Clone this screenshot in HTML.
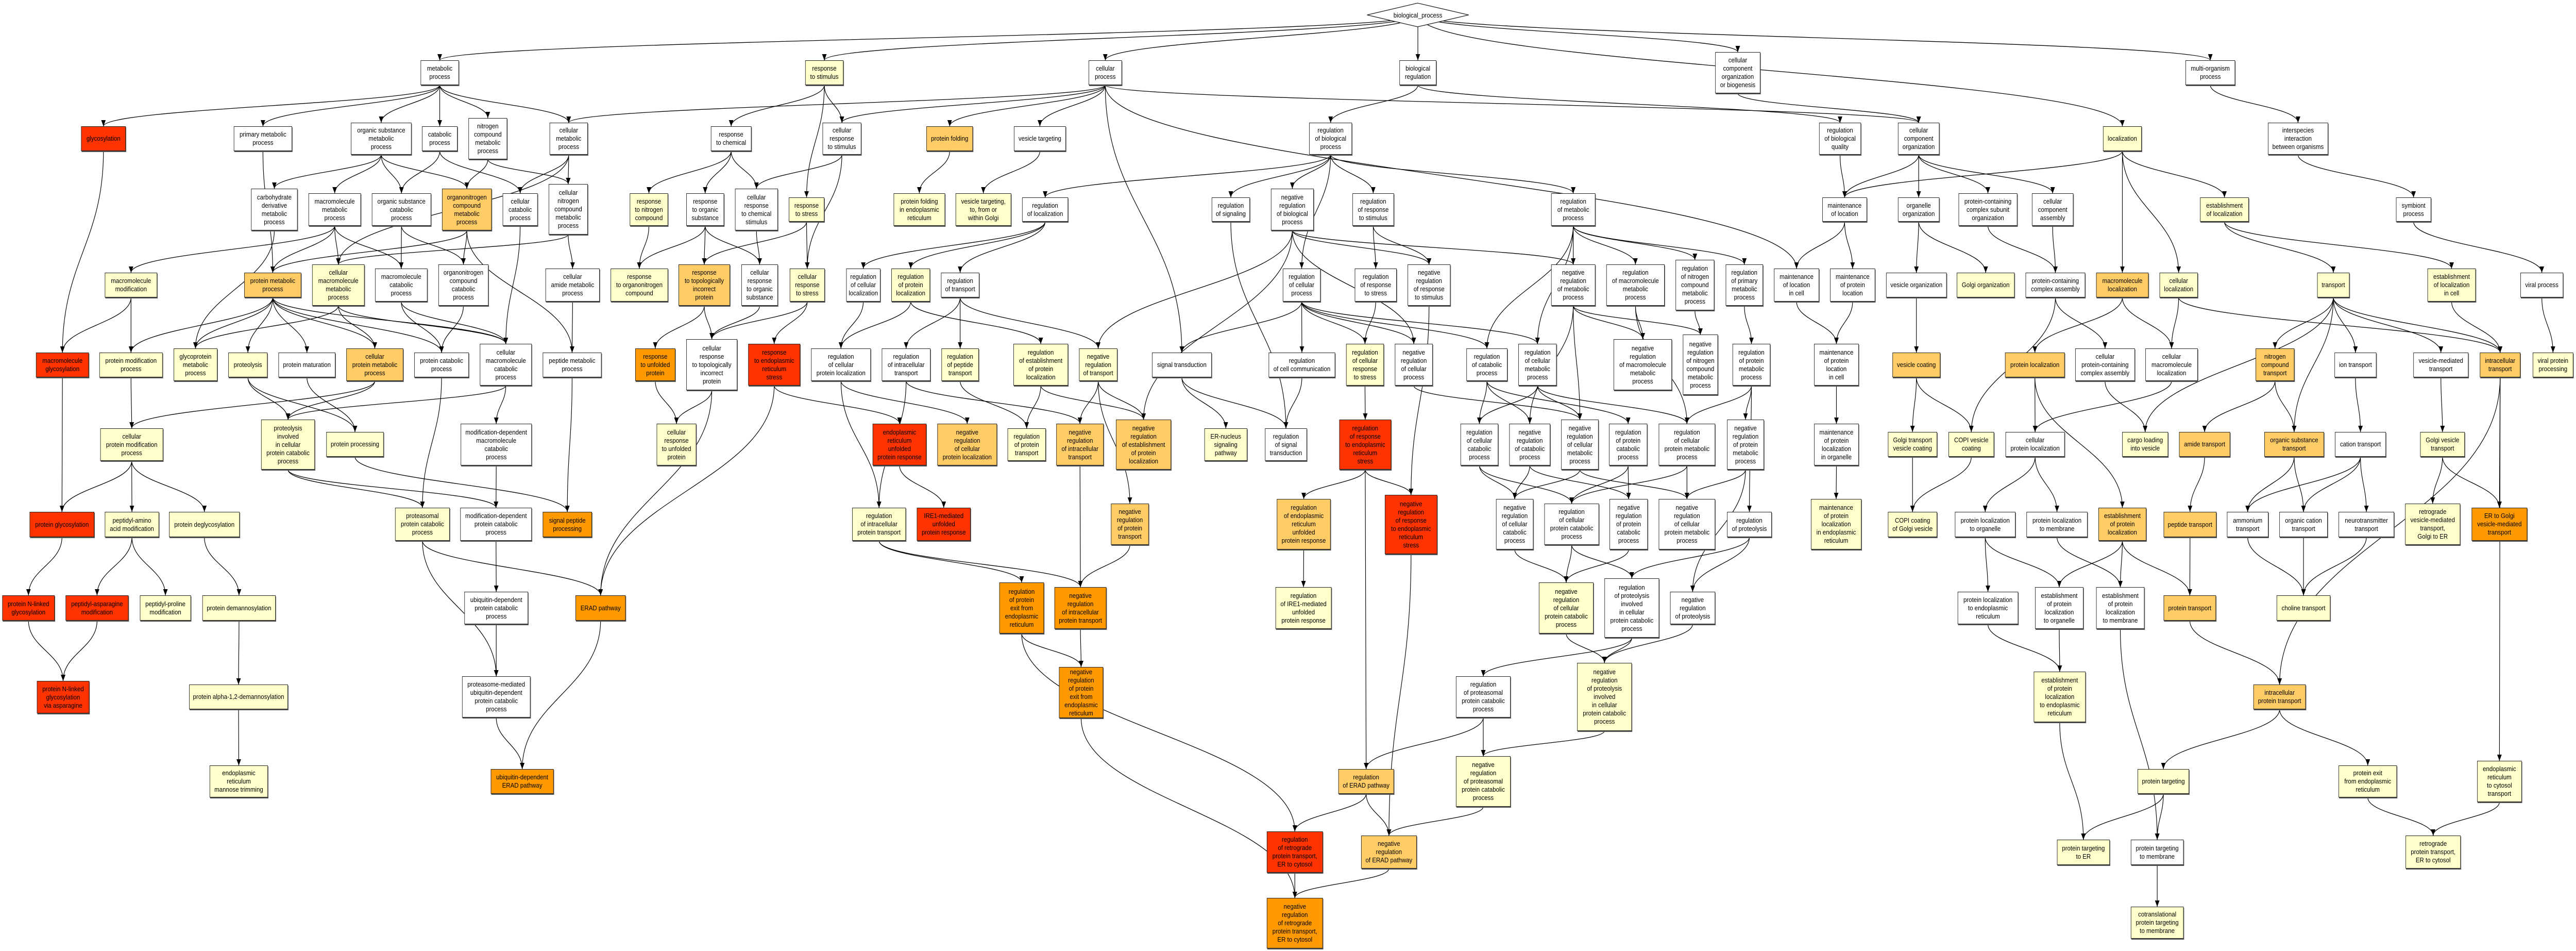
<!DOCTYPE html>
<html><head><meta charset="utf-8">
<style>
html,body{margin:0;padding:0;background:#fff;overflow:hidden;}
#c{position:absolute;left:0;top:0;width:5653px;height:1845px;overflow:hidden;background:#fff;font-family:"Liberation Sans",sans-serif;transform-origin:0 0;}
#edges{position:absolute;left:0;top:0;z-index:1;}
.n{position:absolute;z-index:2;box-sizing:border-box;border:1px solid #222;box-shadow:1px 2px 0 #555;display:flex;align-items:center;justify-content:center;text-align:center;font-size:13px;line-height:16px;white-space:nowrap;color:#000;}
.w{background:#fff}.y{background:#ffffcc}.o{background:#ffcc66}.d{background:#ff9900}.r{background:#ff3300}
#bp{position:absolute;z-index:2;left:2999px;top:5px;width:225px;height:48px;}
#bp span{position:absolute;left:0;top:0;width:225px;height:48px;display:flex;align-items:center;justify-content:center;font-size:13px;}
</style></head><body><div id="c">
<svg id="edges" width="5653" height="1845"><defs><marker id="a" markerUnits="userSpaceOnUse" markerWidth="13" markerHeight="11" refX="12" refY="5" orient="auto"><path d="M0,0 L12,5 L0,10 z" fill="#000"/></marker></defs><g id="eg"></g></svg>
<div id="bp"><svg width="225" height="48"><polygon points="1,24 112,1 224,24 112,47" fill="#fff" stroke="#222" stroke-width="1.3"/></svg><span>biological_process</span></div>

<div class="n w" id="mp" style="left:923px;top:117px;width:84px;height:48px">metabolic<br>process</div>
<div class="n y" id="rs" style="left:1767px;top:117px;width:84px;height:48px">response<br>to stimulus</div>
<div class="n w" id="cp" style="left:2389px;top:117px;width:73px;height:48px">cellular<br>process</div>
<div class="n w" id="br" style="left:3071px;top:117px;width:81px;height:48px">biological<br>regulation</div>
<div class="n w" id="ccob" style="left:3764px;top:101px;width:99px;height:80px">cellular<br>component<br>organization<br>or biogenesis</div>
<div class="n w" id="mop" style="left:4796px;top:117px;width:109px;height:48px">multi-organism<br>process</div>

<div class="n r" id="gly" style="left:178px;top:245px;width:98px;height:48px">glycosylation</div>
<div class="n w" id="pmp" style="left:513px;top:245px;width:128px;height:48px">primary metabolic<br>process</div>
<div class="n w" id="osmp" style="left:770px;top:238px;width:133px;height:62px">organic substance<br>metabolic<br>process</div>
<div class="n w" id="catp" style="left:926px;top:245px;width:78px;height:48px">catabolic<br>process</div>
<div class="n w" id="ncmp" style="left:1028px;top:229px;width:85px;height:80px">nitrogen<br>compound<br>metabolic<br>process</div>
<div class="n w" id="cmp" style="left:1206px;top:238px;width:84px;height:62px">cellular<br>metabolic<br>process</div>
<div class="n w" id="rc" style="left:1560px;top:245px;width:89px;height:48px">response<br>to chemical</div>
<div class="n w" id="crs" style="left:1805px;top:238px;width:85px;height:62px">cellular<br>response<br>to stimulus</div>
<div class="n o" id="pf" style="left:2033px;top:245px;width:102px;height:48px">protein folding</div>
<div class="n w" id="vt" style="left:2225px;top:245px;width:114px;height:48px">vesicle targeting</div>
<div class="n w" id="rbp" style="left:2873px;top:238px;width:94px;height:62px">regulation<br>of biological<br>process</div>
<div class="n w" id="rbq" style="left:3992px;top:238px;width:92px;height:62px">regulation<br>of biological<br>quality</div>
<div class="n w" id="cco" style="left:4165px;top:238px;width:91px;height:62px">cellular<br>component<br>organization</div>
<div class="n y" id="loc" style="left:4615px;top:245px;width:85px;height:48px">localization</div>
<div class="n w" id="iibo" style="left:4977px;top:238px;width:132px;height:62px">interspecies<br>interaction<br>between organisms</div>

<div class="n w" id="cdmp" style="left:551px;top:366px;width:102px;height:81px">carbohydrate<br>derivative<br>metabolic<br>process</div>
<div class="n w" id="mmp" style="left:677px;top:375px;width:115px;height:63px">macromolecule<br>metabolic<br>process</div>
<div class="n w" id="oscp" style="left:816px;top:375px;width:130px;height:63px">organic substance<br>catabolic<br>process</div>
<div class="n o" id="oncmp" style="left:970px;top:366px;width:109px;height:81px">organonitrogen<br>compound<br>metabolic<br>process</div>
<div class="n w" id="ccp" style="left:1103px;top:375px;width:77px;height:63px">cellular<br>catabolic<br>process</div>
<div class="n w" id="cncmp" style="left:1204px;top:357px;width:86px;height:98px">cellular<br>nitrogen<br>compound<br>metabolic<br>process</div>
<div class="n y" id="rnc" style="left:1382px;top:375px;width:84px;height:63px">response<br>to nitrogen<br>compound</div>
<div class="n w" id="ros" style="left:1506px;top:375px;width:83px;height:63px">response<br>to organic<br>substance</div>
<div class="n w" id="crcs" style="left:1613px;top:366px;width:94px;height:81px">cellular<br>response<br>to chemical<br>stimulus</div>
<div class="n y" id="rst" style="left:1731px;top:383px;width:78px;height:47px">response<br>to stress</div>
<div class="n y" id="pfer" style="left:1961px;top:375px;width:113px;height:63px">protein folding<br>in endoplasmic<br>reticulum</div>
<div class="n y" id="vtg" style="left:2097px;top:375px;width:122px;height:63px">vesicle targeting,<br>to, from or<br>within Golgi</div>
<div class="n w" id="rl" style="left:2243px;top:383px;width:101px;height:47px">regulation<br>of localization</div>
<div class="n w" id="rsig" style="left:2659px;top:383px;width:84px;height:47px">regulation<br>of signaling</div>
<div class="n w" id="nrbp" style="left:2789px;top:366px;width:94px;height:81px">negative<br>regulation<br>of biological<br>process</div>
<div class="n w" id="rrs" style="left:2968px;top:375px;width:91px;height:63px">regulation<br>of response<br>to stimulus</div>
<div class="n w" id="rmp" style="left:3404px;top:375px;width:97px;height:63px">regulation<br>of metabolic<br>process</div>
<div class="n w" id="mol" style="left:3999px;top:383px;width:98px;height:47px">maintenance<br>of location</div>
<div class="n w" id="oo" style="left:4165px;top:383px;width:91px;height:47px">organelle<br>organization</div>
<div class="n w" id="pcso" style="left:4298px;top:375px;width:129px;height:63px">protein-containing<br>complex subunit<br>organization</div>
<div class="n w" id="cca" style="left:4459px;top:375px;width:91px;height:63px">cellular<br>component<br>assembly</div>
<div class="n y" id="eol" style="left:4828px;top:383px;width:107px;height:47px">establishment<br>of localization</div>
<div class="n w" id="sp" style="left:5258px;top:383px;width:77px;height:47px">symbiont<br>process</div>

<div class="n y" id="mm" style="left:230px;top:529px;width:115px;height:48px">macromolecule<br>modification</div>
<div class="n o" id="prmp" style="left:536px;top:529px;width:125px;height:48px">protein metabolic<br>process</div>
<div class="n y" id="cmmp" style="left:685px;top:513px;width:115px;height:80px">cellular<br>macromolecule<br>metabolic<br>process</div>
<div class="n w" id="mcp" style="left:823px;top:521px;width:115px;height:64px">macromolecule<br>catabolic<br>process</div>
<div class="n w" id="onccp" style="left:962px;top:513px;width:110px;height:80px">organonitrogen<br>compound<br>catabolic<br>process</div>
<div class="n w" id="camp" style="left:1197px;top:521px;width:119px;height:64px">cellular<br>amide metabolic<br>process</div>
<div class="n y" id="ronc" style="left:1340px;top:521px;width:126px;height:64px">response<br>to organonitrogen<br>compound</div>
<div class="n o" id="rtip" style="left:1489px;top:513px;width:113px;height:80px">response<br>to topologically<br>incorrect<br>protein</div>
<div class="n w" id="cros" style="left:1627px;top:513px;width:80px;height:80px">cellular<br>response<br>to organic<br>substance</div>
<div class="n y" id="crst" style="left:1733px;top:521px;width:77px;height:64px">cellular<br>response<br>to stress</div>
<div class="n w" id="rcl" style="left:1857px;top:521px;width:75px;height:64px">regulation<br>of cellular<br>localization</div>
<div class="n y" id="rpl" style="left:1956px;top:521px;width:85px;height:64px">regulation<br>of protein<br>localization</div>
<div class="n w" id="rt" style="left:2065px;top:529px;width:84px;height:48px">regulation<br>of transport</div>
<div class="n w" id="rcp" style="left:2815px;top:521px;width:83px;height:64px">regulation<br>of cellular<br>process</div>
<div class="n w" id="rrst" style="left:2973px;top:521px;width:92px;height:64px">regulation<br>of response<br>to stress</div>
<div class="n w" id="nrrs" style="left:3089px;top:513px;width:94px;height:80px">negative<br>regulation<br>of response<br>to stimulus</div>
<div class="n w" id="nrmp" style="left:3404px;top:513px;width:97px;height:80px">negative<br>regulation<br>of metabolic<br>process</div>
<div class="n w" id="rmmp" style="left:3525px;top:513px;width:128px;height:80px">regulation<br>of macromolecule<br>metabolic<br>process</div>
<div class="n w" id="rncmp" style="left:3677px;top:504px;width:85px;height:98px">regulation<br>of nitrogen<br>compound<br>metabolic<br>process</div>
<div class="n w" id="rpmp" style="left:3787px;top:513px;width:82px;height:80px">regulation<br>of primary<br>metabolic<br>process</div>
<div class="n w" id="molc" style="left:3893px;top:521px;width:99px;height:64px">maintenance<br>of location<br>in cell</div>
<div class="n w" id="mopl" style="left:4016px;top:521px;width:99px;height:64px">maintenance<br>of protein<br>location</div>
<div class="n w" id="vo" style="left:4139px;top:529px;width:133px;height:48px">vesicle organization</div>
<div class="n y" id="go" style="left:4294px;top:529px;width:127px;height:48px">Golgi organization</div>
<div class="n w" id="pcca" style="left:4445px;top:529px;width:131px;height:48px">protein-containing<br>complex assembly</div>
<div class="n o" id="ml" style="left:4600px;top:529px;width:115px;height:48px">macromolecule<br>localization</div>
<div class="n y" id="cl" style="left:4739px;top:529px;width:84px;height:48px">cellular<br>localization</div>
<div class="n y" id="tr" style="left:5085px;top:529px;width:71px;height:48px">transport</div>
<div class="n y" id="eolc" style="left:5327px;top:521px;width:106px;height:64px">establishment<br>of localization<br>in cell</div>
<div class="n w" id="vp" style="left:5531px;top:529px;width:94px;height:48px">viral process</div>

<div class="n r" id="mg" style="left:79px;top:684px;width:116px;height:48px">macromolecule<br>glycosylation</div>
<div class="n y" id="pmop" style="left:218px;top:684px;width:139px;height:48px">protein modification<br>process</div>
<div class="n y" id="gmp" style="left:381px;top:676px;width:96px;height:63px">glycoprotein<br>metabolic<br>process</div>
<div class="n y" id="prt" style="left:501px;top:684px;width:86px;height:48px">proteolysis</div>
<div class="n w" id="pmat" style="left:611px;top:684px;width:125px;height:48px">protein maturation</div>
<div class="n o" id="cpmp" style="left:760px;top:676px;width:125px;height:63px">cellular<br>protein metabolic<br>process</div>
<div class="n w" id="pcatp" style="left:909px;top:684px;width:120px;height:48px">protein catabolic<br>process</div>
<div class="n w" id="cmcp" style="left:1053px;top:667px;width:114px;height:81px">cellular<br>macromolecule<br>catabolic<br>process</div>
<div class="n w" id="pemp" style="left:1191px;top:684px;width:129px;height:48px">peptide metabolic<br>process</div>
<div class="n d" id="rup" style="left:1394px;top:676px;width:88px;height:63px">response<br>to unfolded<br>protein</div>
<div class="n w" id="crtip" style="left:1506px;top:658px;width:112px;height:99px">cellular<br>response<br>to topologically<br>incorrect<br>protein</div>
<div class="n r" id="rers" style="left:1642px;top:667px;width:114px;height:81px">response<br>to endoplasmic<br>reticulum<br>stress</div>
<div class="n w" id="rcpl" style="left:1780px;top:676px;width:131px;height:63px">regulation<br>of cellular<br>protein localization</div>
<div class="n w" id="rit" style="left:1935px;top:676px;width:107px;height:63px">regulation<br>of intracellular<br>transport</div>
<div class="n y" id="rpt" style="left:2066px;top:676px;width:82px;height:63px">regulation<br>of peptide<br>transport</div>
<div class="n y" id="repl" style="left:2224px;top:667px;width:120px;height:81px">regulation<br>of establishment<br>of protein<br>localization</div>
<div class="n y" id="nrt" style="left:2368px;top:676px;width:84px;height:63px">negative<br>regulation<br>of transport</div>
<div class="n w" id="st" style="left:2528px;top:684px;width:131px;height:48px">signal transduction</div>
<div class="n w" id="rcc" style="left:2784px;top:684px;width:146px;height:48px">regulation<br>of cell communication</div>
<div class="n y" id="rcrs" style="left:2954px;top:667px;width:83px;height:81px">regulation<br>of cellular<br>response<br>to stress</div>
<div class="n w" id="nrcp" style="left:3061px;top:667px;width:83px;height:81px">negative<br>regulation<br>of cellular<br>process</div>
<div class="n w" id="rcatp" style="left:3218px;top:676px;width:90px;height:63px">regulation<br>of catabolic<br>process</div>
<div class="n w" id="rcmp" style="left:3332px;top:667px;width:84px;height:81px">regulation<br>of cellular<br>metabolic<br>process</div>
<div class="n w" id="nrmmp" style="left:3541px;top:658px;width:128px;height:99px">negative<br>regulation<br>of macromolecule<br>metabolic<br>process</div>
<div class="n w" id="nrncmp" style="left:3693px;top:649px;width:77px;height:117px">negative<br>regulation<br>of nitrogen<br>compound<br>metabolic<br>process</div>
<div class="n w" id="rprmp" style="left:3802px;top:667px;width:83px;height:81px">regulation<br>of protein<br>metabolic<br>process</div>
<div class="n w" id="mopc" style="left:3981px;top:667px;width:98px;height:81px">maintenance<br>of protein<br>location<br>in cell</div>
<div class="n o" id="vc" style="left:4153px;top:684px;width:105px;height:48px">vesicle coating</div>
<div class="n o" id="pl" style="left:4400px;top:684px;width:131px;height:48px">protein localization</div>
<div class="n w" id="cpcca" style="left:4554px;top:676px;width:131px;height:63px">cellular<br>protein-containing<br>complex assembly</div>
<div class="n w" id="cml" style="left:4708px;top:676px;width:115px;height:63px">cellular<br>macromolecule<br>localization</div>
<div class="n o" id="nct" style="left:4950px;top:676px;width:85px;height:63px">nitrogen<br>compound<br>transport</div>
<div class="n w" id="it" style="left:5123px;top:684px;width:92px;height:48px">ion transport</div>
<div class="n w" id="vmt" style="left:5296px;top:684px;width:121px;height:48px">vesicle-mediated<br>transport</div>
<div class="n o" id="intr" style="left:5442px;top:684px;width:89px;height:48px">intracellular<br>transport</div>
<div class="n y" id="vpp" style="left:5558px;top:684px;width:89px;height:48px">viral protein<br>processing</div>

<div class="n y" id="cpmop" style="left:220px;top:831px;width:138px;height:63px">cellular<br>protein modification<br>process</div>
<div class="n y" id="picpcp" style="left:573px;top:814px;width:118px;height:97px">proteolysis<br>involved<br>in cellular<br>protein catabolic<br>process</div>
<div class="n y" id="pp" style="left:716px;top:838px;width:126px;height:48px">protein processing</div>
<div class="n w" id="mdmcp" style="left:1011px;top:822px;width:156px;height:81px">modification-dependent<br>macromolecule<br>catabolic<br>process</div>
<div class="n y" id="crup" style="left:1441px;top:822px;width:87px;height:81px">cellular<br>response<br>to unfolded<br>protein</div>
<div class="n r" id="erupr" style="left:1915px;top:822px;width:118px;height:81px">endoplasmic<br>reticulum<br>unfolded<br>protein response</div>
<div class="n o" id="nrcpl" style="left:2057px;top:822px;width:131px;height:81px">negative<br>regulation<br>of cellular<br>protein localization</div>
<div class="n y" id="rprt" style="left:2211px;top:831px;width:84px;height:63px">regulation<br>of protein<br>transport</div>
<div class="n o" id="nrit" style="left:2318px;top:822px;width:104px;height:81px">negative<br>regulation<br>of intracellular<br>transport</div>
<div class="n o" id="nrepl" style="left:2449px;top:814px;width:121px;height:97px">negative<br>regulation<br>of establishment<br>of protein<br>localization</div>
<div class="n y" id="erns" style="left:2643px;top:831px;width:94px;height:63px">ER-nucleus<br>signaling<br>pathway</div>
<div class="n w" id="rst2" style="left:2776px;top:831px;width:92px;height:63px">regulation<br>of signal<br>transduction</div>
<div class="n r" id="rrers" style="left:2939px;top:814px;width:114px;height:97px">regulation<br>of response<br>to endoplasmic<br>reticulum<br>stress</div>
<div class="n w" id="rccp" style="left:3205px;top:822px;width:83px;height:81px">regulation<br>of cellular<br>catabolic<br>process</div>
<div class="n w" id="nrcatp" style="left:3312px;top:822px;width:90px;height:81px">negative<br>regulation<br>of catabolic<br>process</div>
<div class="n w" id="nrcmp" style="left:3426px;top:814px;width:82px;height:97px">negative<br>regulation<br>of cellular<br>metabolic<br>process</div>
<div class="n w" id="rpcp" style="left:3531px;top:822px;width:84px;height:81px">regulation<br>of protein<br>catabolic<br>process</div>
<div class="n w" id="rcpmp" style="left:3640px;top:822px;width:124px;height:81px">regulation<br>of cellular<br>protein metabolic<br>process</div>
<div class="n w" id="nrpmp" style="left:3790px;top:814px;width:81px;height:97px">negative<br>regulation<br>of protein<br>metabolic<br>process</div>
<div class="n w" id="mople" style="left:3981px;top:822px;width:98px;height:81px">maintenance<br>of protein<br>localization<br>in organelle</div>
<div class="n y" id="gtvc" style="left:4143px;top:838px;width:108px;height:48px">Golgi transport<br>vesicle coating</div>
<div class="n y" id="copi" style="left:4276px;top:838px;width:100px;height:48px">COPI vesicle<br>coating</div>
<div class="n w" id="cpl" style="left:4401px;top:838px;width:130px;height:48px">cellular<br>protein localization</div>
<div class="n y" id="cliv" style="left:4657px;top:838px;width:101px;height:48px">cargo loading<br>into vesicle</div>
<div class="n o" id="amt" style="left:4782px;top:838px;width:112px;height:48px">amide transport</div>
<div class="n o" id="ost" style="left:4969px;top:838px;width:131px;height:48px">organic substance<br>transport</div>
<div class="n w" id="ct" style="left:5124px;top:838px;width:112px;height:48px">cation transport</div>
<div class="n y" id="gvt" style="left:5311px;top:838px;width:98px;height:48px">Golgi vesicle<br>transport</div>

<div class="n r" id="pgly" style="left:65px;top:993px;width:142px;height:49px">protein glycosylation</div>
<div class="n y" id="paam" style="left:230px;top:993px;width:119px;height:49px">peptidyl-amino<br>acid modification</div>
<div class="n y" id="pdg" style="left:371px;top:993px;width:155px;height:49px">protein deglycosylation</div>
<div class="n y" id="ppcp" style="left:867px;top:985px;width:120px;height:64px">proteasomal<br>protein catabolic<br>process</div>
<div class="n w" id="mdpcp" style="left:1010px;top:985px;width:157px;height:64px">modification-dependent<br>protein catabolic<br>process</div>
<div class="n d" id="spp" style="left:1191px;top:993px;width:108px;height:49px">signal peptide<br>processing</div>
<div class="n y" id="ript" style="left:1870px;top:985px;width:118px;height:64px">regulation<br>of intracellular<br>protein transport</div>
<div class="n r" id="ire" style="left:2012px;top:985px;width:118px;height:64px">IRE1-mediated<br>unfolded<br>protein response</div>
<div class="n o" id="nrpt" style="left:2438px;top:977px;width:83px;height:80px">negative<br>regulation<br>of protein<br>transport</div>
<div class="n o" id="rerupr" style="left:2802px;top:968px;width:118px;height:98px">regulation<br>of endoplasmic<br>reticulum<br>unfolded<br>protein response</div>
<div class="n r" id="nrrers" style="left:3039px;top:960px;width:115px;height:115px">negative<br>regulation<br>of response<br>to endoplasmic<br>reticulum<br>stress</div>
<div class="n w" id="nrccp" style="left:3283px;top:968px;width:82px;height:98px">negative<br>regulation<br>of cellular<br>catabolic<br>process</div>
<div class="n w" id="rcpcp" style="left:3389px;top:977px;width:120px;height:80px">regulation<br>of cellular<br>protein catabolic<br>process</div>
<div class="n w" id="nrpcp" style="left:3532px;top:968px;width:84px;height:98px">negative<br>regulation<br>of protein<br>catabolic<br>process</div>
<div class="n w" id="nrcpmp" style="left:3640px;top:968px;width:124px;height:98px">negative<br>regulation<br>of cellular<br>protein metabolic<br>process</div>
<div class="n w" id="rprot" style="left:3790px;top:993px;width:98px;height:49px">regulation<br>of proteolysis</div>
<div class="n y" id="mopler" style="left:3974px;top:968px;width:111px;height:98px">maintenance<br>of protein<br>localization<br>in endoplasmic<br>reticulum</div>
<div class="n y" id="copigv" style="left:4143px;top:993px;width:108px;height:49px">COPI coating<br>of Golgi vesicle</div>
<div class="n w" id="plo" style="left:4290px;top:993px;width:133px;height:49px">protein localization<br>to organelle</div>
<div class="n w" id="plm" style="left:4447px;top:993px;width:134px;height:49px">protein localization<br>to membrane</div>
<div class="n o" id="epl" style="left:4605px;top:985px;width:105px;height:64px">establishment<br>of protein<br>localization</div>
<div class="n o" id="pept" style="left:4748px;top:993px;width:116px;height:49px">peptide transport</div>
<div class="n w" id="ammt" style="left:4887px;top:993px;width:91px;height:49px">ammonium<br>transport</div>
<div class="n w" id="oct" style="left:5002px;top:993px;width:106px;height:49px">organic cation<br>transport</div>
<div class="n w" id="ntt" style="left:5132px;top:993px;width:122px;height:49px">neurotransmitter<br>transport</div>
<div class="n y" id="rvmt" style="left:5278px;top:977px;width:121px;height:80px">retrograde<br>vesicle-mediated<br>transport,<br>Golgi to ER</div>
<div class="n d" id="ergv" style="left:5424px;top:985px;width:122px;height:64px">ER to Golgi<br>vesicle-mediated<br>transport</div>

<div class="n r" id="pnlg" style="left:5px;top:1155px;width:115px;height:49px">protein N-linked<br>glycosylation</div>
<div class="n r" id="pam" style="left:144px;top:1155px;width:138px;height:49px">peptidyl-asparagine<br>modification</div>
<div class="n y" id="ppm" style="left:307px;top:1155px;width:112px;height:49px">peptidyl-proline<br>modification</div>
<div class="n y" id="pdm" style="left:444px;top:1155px;width:161px;height:49px">protein demannosylation</div>
<div class="n w" id="udpcp" style="left:1019px;top:1148px;width:140px;height:63px">ubiquitin-dependent<br>protein catabolic<br>process</div>
<div class="n d" id="erad" style="left:1263px;top:1155px;width:110px;height:49px">ERAD pathway</div>
<div class="n d" id="rpeer" style="left:2193px;top:1130px;width:98px;height:99px">regulation<br>of protein<br>exit from<br>endoplasmic<br>reticulum</div>
<div class="n d" id="nript" style="left:2314px;top:1139px;width:114px;height:81px">negative<br>regulation<br>of intracellular<br>protein transport</div>
<div class="n y" id="rire" style="left:2799px;top:1139px;width:123px;height:81px">regulation<br>of IRE1-mediated<br>unfolded<br>protein response</div>
<div class="n y" id="nrcpcp" style="left:3377px;top:1130px;width:120px;height:99px">negative<br>regulation<br>of cellular<br>protein catabolic<br>process</div>
<div class="n w" id="rpicpcp" style="left:3521px;top:1122px;width:120px;height:115px">regulation<br>of proteolysis<br>involved<br>in cellular<br>protein catabolic<br>process</div>
<div class="n w" id="nrprot" style="left:3665px;top:1148px;width:99px;height:63px">negative<br>regulation<br>of proteolysis</div>
<div class="n w" id="plter" style="left:4296px;top:1148px;width:133px;height:63px">protein localization<br>to endoplasmic<br>reticulum</div>
<div class="n w" id="eplo" style="left:4466px;top:1139px;width:106px;height:81px">establishment<br>of protein<br>localization<br>to organelle</div>
<div class="n w" id="eplm" style="left:4600px;top:1139px;width:106px;height:81px">establishment<br>of protein<br>localization<br>to membrane</div>
<div class="n o" id="pt" style="left:4748px;top:1155px;width:115px;height:49px">protein transport</div>
<div class="n y" id="cht" style="left:4996px;top:1155px;width:118px;height:49px">choline transport</div>

<div class="n r" id="pnlga" style="left:81px;top:1321px;width:115px;height:63px">protein N-linked<br>glycosylation<br>via asparagine</div>
<div class="n y" id="pad" style="left:415px;top:1328px;width:217px;height:48px">protein alpha-1,2-demannosylation</div>
<div class="n w" id="pmudpcp" style="left:1014px;top:1312px;width:150px;height:80px">proteasome-mediated<br>ubiquitin-dependent<br>protein catabolic<br>process</div>
<div class="n d" id="nrpeer" style="left:2324px;top:1294px;width:97px;height:99px">negative<br>regulation<br>of protein<br>exit from<br>endoplasmic<br>reticulum</div>
<div class="n w" id="rppcp" style="left:3195px;top:1312px;width:120px;height:80px">regulation<br>of proteasomal<br>protein catabolic<br>process</div>
<div class="n y" id="nrpicpcp" style="left:3461px;top:1286px;width:120px;height:132px">negative<br>regulation<br>of proteolysis<br>involved<br>in cellular<br>protein catabolic<br>process</div>
<div class="n y" id="eplter" style="left:4463px;top:1303px;width:114px;height:98px">establishment<br>of protein<br>localization<br>to endoplasmic<br>reticulum</div>
<div class="n o" id="ipt" style="left:4945px;top:1328px;width:115px;height:48px">intracellular<br>protein transport</div>

<div class="n y" id="ermt" style="left:460px;top:1485px;width:128px;height:62px">endoplasmic<br>reticulum<br>mannose trimming</div>
<div class="n d" id="uerad" style="left:1077px;top:1492px;width:138px;height:48px">ubiquitin-dependent<br>ERAD pathway</div>
<div class="n o" id="rerad" style="left:2937px;top:1492px;width:122px;height:48px">regulation<br>of ERAD pathway</div>
<div class="n y" id="nrppcp" style="left:3195px;top:1467px;width:120px;height:98px">negative<br>regulation<br>of proteasomal<br>protein catabolic<br>process</div>
<div class="n y" id="ptg" style="left:4691px;top:1492px;width:113px;height:48px">protein targeting</div>
<div class="n y" id="peer" style="left:5132px;top:1485px;width:128px;height:62px">protein exit<br>from endoplasmic<br>reticulum</div>
<div class="n y" id="ertc" style="left:5436px;top:1476px;width:98px;height:80px">endoplasmic<br>reticulum<br>to cytosol<br>transport</div>

<div class="n r" id="rrpt" style="left:2780px;top:1613px;width:123px;height:80px">regulation<br>of retrograde<br>protein transport,<br>ER to cytosol</div>
<div class="n o" id="nrerad" style="left:2987px;top:1621px;width:122px;height:64px">negative<br>regulation<br>of ERAD pathway</div>
<div class="n y" id="pter" style="left:4514px;top:1629px;width:116px;height:49px">protein targeting<br>to ER</div>
<div class="n w" id="ptm" style="left:4676px;top:1629px;width:116px;height:49px">protein targeting<br>to membrane</div>
<div class="n y" id="rpter" style="left:5279px;top:1621px;width:121px;height:64px">retrograde<br>protein transport,<br>ER to cytosol</div>
<div class="n d" id="nrrpt" style="left:2780px;top:1742px;width:123px;height:98px">negative<br>regulation<br>of retrograde<br>protein transport,<br>ER to cytosol</div>
<div class="n y" id="cptm" style="left:4676px;top:1759px;width:116px;height:62px">cotranslational<br>protein targeting<br>to membrane</div>
</div>
<script>
(function(){
var E="bp mp,bp rs,bp cp,bp br,bp ccob,bp mop,bp loc,mp gly,mp pmp,mp osmp,mp catp,mp ncmp,mp cmp,cp cmp,cp crs,cp pf,cp vt,cp st,cp cco,cp molc,rs rc,rs crs,rs rst,br rbp,br rbq,ccob cco,mop iibo,iibo sp,sp vp,vp vpp,osmp cdmp,osmp mmp,osmp oscp,osmp oncmp,catp oscp,catp ccp,ncmp oncmp,ncmp cncmp,cmp ccp,cmp cncmp,cmp cmmp,pmp prmp,rc rnc,rc ros,rc crcs,crs crcs,crs crst,rst crst,rst rtip,rnc ronc,ros ronc,ros rtip,ros cros,crcs cros,crst crtip,crst rers,rtip rup,rtip crtip,cros crtip,rup crup,crtip crup,rers erad,crtip erad,cdmp gmp,mmp mm,mmp prmp,mmp cmmp,mmp mcp,oscp mcp,oscp onccp,oncmp prmp,oncmp onccp,oncmp pemp,ccp cmcp,cncmp camp,cncmp cmmp,camp pemp,mm mg,mm pmop,prmp pmop,prmp gmp,prmp prt,prmp pmat,prmp cpmp,prmp pcatp,prmp cmcp,cmmp gmp,cmmp cpmp,cmmp cmcp,mcp pcatp,mcp cmcp,onccp pcatp,pmop cpmop,gly mg,prt picpcp,prt pp,pmat pp,cpmp cpmop,cpmp picpcp,pcatp ppcp,cmcp mdmcp,cmcp picpcp,mdmcp mdpcp,pemp spp,cpmop pgly,cpmop paam,cpmop pdg,mg pgly,picpcp ppcp,picpcp mdpcp,pp spp,pgly pnlg,paam pam,paam ppm,pdg pdm,pnlg pnlga,pam pnlga,pdm pad,pad ermt,ppcp erad,ppcp pmudpcp,mdpcp udpcp,udpcp pmudpcp,pmudpcp uerad,erad uerad,pf pfer,vt vtg,rbp rl,rbp rsig,rbp nrbp,rbp rrs,rbp rmp,rbp rcp,rl rcl,rl rpl,rl rt,rcl rcpl,rpl rcpl,rpl repl,rt rit,rt rpt,rt nrt,rcpl nrcpl,rcpl ript,rit ript,rit nrit,rpt rprt,repl rprt,repl nrepl,nrt nrit,nrt nrpt,nrt nrepl,rers erupr,erupr ire,nrbp nrt,nrbp nrepl,nrbp nrcp,nrbp nrrs,nrbp nrmp,rsig rst2,rrs rrst,rrs nrrs,rcp rcc,rcp st,rcp rcrs,rcp nrcp,rcp rcmp,rcp rcatp,rrst rcrs,nrrs nrrers,rcrs rrers,st erns,st rst2,rcc rst2,rrers rerupr,rrers nrrers,rrers rerad,rerupr rire,nrrers nrerad,rmp nrmp,rmp rmmp,rmp rncmp,rmp rpmp,rmp rcatp,rmp rcmp,nrmp nrmmp,nrmp nrncmp,nrmp nrcatp,nrmp nrcmp,rmmp nrmmp,rmmp rcpmp,rncmp nrncmp,rpmp rprmp,rcatp rccp,rcatp nrcatp,rcatp rpcp,rcmp rccp,rcmp nrcmp,rcmp rcpmp,rprmp nrpmp,rprmp rcpmp,rprmp rprot,nrcp nrcmp,rccp nrccp,rccp rcpcp,nrcatp nrccp,nrcatp nrpcp,nrcmp nrccp,nrcmp nrcpmp,rpcp rcpcp,rpcp nrpcp,rcpmp rcpcp,rcpmp nrcpmp,nrpmp nrcpmp,nrpmp nrprot,rprot rpicpcp,rprot nrprot,rcpcp nrcpcp,rcpcp rpicpcp,nrccp nrcpcp,nrpcp nrcpcp,rpicpcp nrpicpcp,rpicpcp rppcp,nrprot nrpicpcp,nrcpcp nrpicpcp,rppcp nrppcp,rppcp rerad,nrpicpcp nrppcp,nrppcp nrerad,rerad rrpt,rerad nrerad,nrerad nrrpt,rrpt nrrpt,ript rpeer,ript nript,nrit nript,nrpt nript,rpeer nrpeer,rpeer rrpt,nript nrpeer,nrpeer nrrpt,rbq mol,cco mol,cco oo,cco pcso,cco cca,mol molc,mol mopl,molc mopc,mopl mopc,mopc mople,mople mopler,oo vo,oo go,pcso pcca,cca pcca,vo vc,pcca cpcca,pcca copi,ml pl,ml cml,cl cml,loc ml,loc cl,loc eol,loc mol,eol tr,eol eolc,tr nct,tr it,tr vmt,tr intr,tr ost,tr cliv,eolc intr,cl intr,vc gtvc,vc copi,pl cpl,pl epl,cpcca cliv,cml cpl,cpl plo,cpl plm,nct amt,nct ost,it ct,vmt gvt,intr ergv,intr ipt,intr ertc,gvt rvmt,gvt ergv,gtvc copigv,copi copigv,amt pept,ost ammt,ost oct,ct ammt,ct oct,ct ntt,plo plter,plo eplo,plm eplm,epl eplo,epl eplm,epl pt,pept pt,ammt cht,oct cht,ntt cht,plter eplter,eplo eplter,pt ipt,ipt ptg,ipt peer,eplter pter,eplm ptm,ptg pter,ptg ptm,ptm cptm,peer rpter,ertc rpter".split(",");
var g=document.getElementById("eg"),s="";
function r(id){var e=document.getElementById(id);if(!e)return null;return{x:e.offsetLeft,y:e.offsetTop,w:e.offsetWidth,h:e.offsetHeight};}
E.forEach(function(p){var a=p.split(" "),A=r(a[0]),B=r(a[1]);if(!A||!B)return;
var x1=A.x+A.w/2,y1=a[0]=="bp"?A.y+24:A.y+A.h,x2=B.x+B.w/2,y2=B.y;
var dy=y2-y1;if(dy<20)dy=20;
s+='<path d="M'+x1+' '+y1+' C'+x1+' '+(y1+dy*0.45)+' '+x2+' '+(y2-dy*0.45)+' '+x2+' '+y2+'" fill="none" stroke="#000" stroke-width="1.3" marker-end="url(#a)"/>';});
g.innerHTML=s;
function fit(){var w=document.documentElement.clientWidth||window.innerWidth,h=document.documentElement.clientHeight||window.innerHeight;
var sx=w/5653,sy=h/1845;if(!(sx>0))sx=1;if(!(sy>0))sy=1;
document.getElementById("c").style.transform=(Math.abs(sx-1)<0.001&&Math.abs(sy-1)<0.001)?"none":"scale("+sx+","+sy+")";}
fit();window.addEventListener("resize",fit);
})();
</script>
</body></html>
